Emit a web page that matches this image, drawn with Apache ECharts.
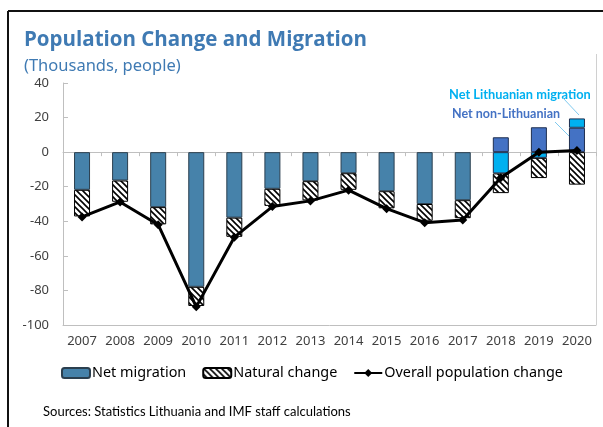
<!DOCTYPE html>
<html>
<head>
<meta charset="utf-8">
<script src="https://cdn.jsdelivr.net/npm/echarts@6/dist/echarts.min.js"></script>
<style>
  html, body { margin: 0; padding: 0; background: #fff; }
  #chart { width: 603px; height: 427px; }
</style>
</head>
<body>
<div id="chart"></div>
<script>
const years = ['2007', '2008', '2009', '2010', '2011', '2012', '2013', '2014', '2015', '2016', '2017', '2018', '2019', '2020'];
const netMigration = [-21.8, -16.4, -31.8, -77.9, -37.9, -21.2, -16.8, -12.2, -22.6, -30.0, -27.8, null, null, null];
const netNonLithuanian = [null, null, null, null, null, null, null, null, null, null, null, 8.6, 14.4, 14.1];
const netLithuanian = [null, null, null, null, null, null, null, null, null, null, null, -12.3, -3.3, 5.4];
const naturalChange = [-15.4, -12.3, -10.0, -11.1, -11.1, -9.9, -11.1, -9.6, -9.9, -9.7, -10.4, -11.4, -11.7, -18.8];
const overallChange = [-37.5, -28.8, -42.0, -89.5, -49.2, -31.5, -28.2, -22.0, -32.7, -40.8, -39.3, -14.8, 0.0, 1.0];

// hatched fill for natural change
const hatch = document.createElement('canvas');
hatch.width = 6;
hatch.height = 6;
const hctx = hatch.getContext('2d');
hctx.fillStyle = '#fff';
hctx.fillRect(0, 0, 6, 6);
hctx.strokeStyle = '#000';
hctx.lineWidth = 1.6;
hctx.beginPath();
hctx.moveTo(-3, -3); hctx.lineTo(9, 9);
hctx.moveTo(-3, 3); hctx.lineTo(3, 9);
hctx.moveTo(3, -3); hctx.lineTo(9, 3);
hctx.stroke();

const font = 'Noto Sans';
const chartInstance = echarts.init(document.getElementById('chart'));

const option = {
    animation: false,
    textStyle: { fontFamily: font },
    title: [
        {
            text: 'Population Change and Migration',
            left: 19, top: 25,
            textStyle: { fontFamily: 'Open Sans', fontSize: 20.5, fontWeight: 'bold', color: '#3F7AB3' }
        },
        {
            text: '(Thousands, people)',
            left: 19, top: 53,
            textStyle: { fontFamily: font, fontSize: 16.5, fontWeight: 'normal', color: '#3F7AB3' }
        }
    ],
    legend: {
        bottom: 42,
        left: 56,
        itemWidth: 28,
        itemHeight: 10,
        itemGap: 16,
        data: ['Net migration', 'Natural change', 'Overall population change'],
        textStyle: { fontFamily: font, fontSize: 14.4, color: '#000', padding: [0, 0, 0, -3] }
    },
    grid: { left: 63, right: 7, top: 83, bottom: 102 },
    xAxis: [
        {
            type: 'category',
            data: years,
            axisLine: { onZero: false, lineStyle: { color: '#bfbfbf' } },
            axisTick: { show: false },
            axisLabel: { color: '#404040', fontSize: 13, margin: 10, interval: 0 }
        },
        {
            type: 'category',
            data: years,
            position: 'bottom',
            axisLine: { onZero: true, lineStyle: { color: '#bfbfbf' } },
            axisTick: { show: true, length: 4, lineStyle: { color: '#bfbfbf' } },
            axisLabel: { show: false }
        }
    ],
    yAxis: {
        type: 'value',
        min: -100,
        max: 40,
        interval: 20,
        axisLine: { show: true, lineStyle: { color: '#bfbfbf' } },
        axisTick: { show: true, inside: true, length: 5, lineStyle: { color: '#bfbfbf' } },
        splitLine: { show: false },
        axisLabel: { color: '#404040', fontSize: 13, margin: 14 }
    },
    series: [
        {
            name: 'Net migration',
            type: 'bar',
            stack: 'total',
            barWidth: 16,
            data: netMigration,
            itemStyle: { color: '#4682AA', borderColor: '#2b3f4f', borderWidth: 1 }
        },
        {
            name: 'Net non-Lithuanian',
            type: 'bar',
            stack: 'total',
            data: netNonLithuanian,
            itemStyle: { color: '#4472C4', borderColor: '#1f2f50', borderWidth: 1 }
        },
        {
            name: 'Net Lithuanian migration',
            type: 'bar',
            stack: 'total',
            data: netLithuanian,
            itemStyle: { color: '#00B0F0', borderColor: '#1f2f50', borderWidth: 1 }
        },
        {
            name: 'Natural change',
            type: 'bar',
            stack: 'total',
            data: naturalChange,
            itemStyle: { color: { image: hatch, repeat: 'repeat' }, borderColor: '#000', borderWidth: 1 }
        },
        {
            name: 'Overall population change',
            type: 'line',
            data: overallChange,
            symbol: 'diamond',
            symbolSize: 9,
            lineStyle: { color: '#000', width: 3 },
            itemStyle: { color: '#000' },
            z: 5
        }
    ],
    graphic: [
        { type: 'line', shape: { x1: 8, y1: 11, x2: 603, y2: 11 }, style: { stroke: '#111', lineWidth: 2 } },
        { type: 'line', shape: { x1: 8, y1: 11, x2: 8, y2: 427 }, style: { stroke: '#111', lineWidth: 2 } },
        { type: 'line', shape: { x1: 596.5, y1: 54, x2: 596.5, y2: 325 }, style: { stroke: '#d0d0d0', lineWidth: 1 } },
        {
            type: 'text', left: 449, top: 88,
            style: { text: 'Net Lithuanian migration', fill: '#00B0F0', font: 'bold 12.8px Lato' }
        },
        {
            type: 'text', left: 452, top: 107,
            style: { text: 'Net non-Lithuanian', fill: '#4472C4', font: 'bold 12.5px Lato' }
        },
        { type: 'line', shape: { x1: 563, y1: 98, x2: 579, y2: 115 }, style: { stroke: '#7fc9ee', lineWidth: 1 } },
        { type: 'line', shape: { x1: 555, y1: 122, x2: 570, y2: 137 }, style: { stroke: '#7fc9ee', lineWidth: 1 } },
        {
            type: 'text', left: 43, top: 405,
            style: { text: 'Sources: Statistics Lithuania and IMF staff calculations', fill: '#000', font: '13px Lato' }
        }
    ]
};

chartInstance.setOption(option);
</script>
</body>
</html>
